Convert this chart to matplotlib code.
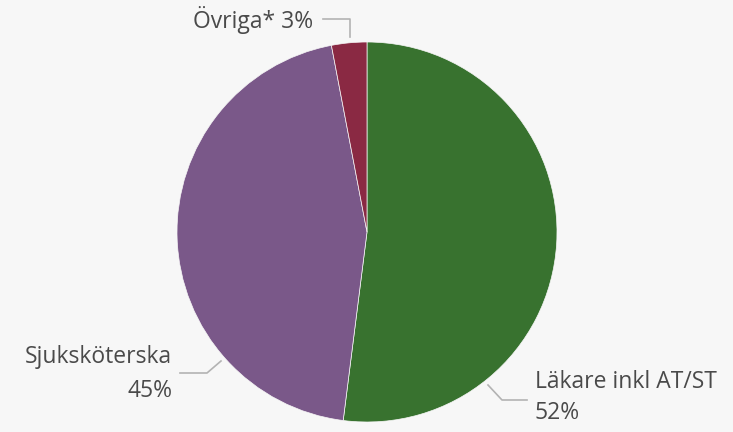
import matplotlib.pyplot as plt

labels = ["Läkare inkl AT/ST", "Sjuksköterska", "Övriga*"]
values = [52, 45, 3]
colors = ["#38722f", "#7a5889", "#8a2943"]

W, H = 733, 432
fig = plt.figure(figsize=(W / 100, H / 100), dpi=100)
fig.patch.set_facecolor("#f7f7f7")
ax = fig.add_axes([0, 0, 1, 1])

cx, cy, r = 367, H - 232, 190
ax.pie(values, colors=colors, startangle=90, counterclock=False,
       center=(cx, cy), radius=r, frame=True,
       wedgeprops=dict(linewidth=0.5, edgecolor="#f7f7f7"))
ax.set_xlim(0, W)
ax.set_ylim(0, H)
ax.set_aspect("equal")
ax.axis("off")

def py(y):
    return H - y

txt = dict(color="#4a4a4a", fontsize=16.5, family=["Open Sans", "DejaVu Sans"])
line = dict(color="#b3b3b3", linewidth=1.2)

# Övriga
ax.plot([323, 350, 350], [py(19), py(19), py(37)], **line)
ax.text(313, py(20), f"{labels[2]} {values[2]}%", ha="right", va="center", **txt)

# Sjuksköterska
ax.plot([180, 207, 221], [py(373), py(373), py(361)], **line)
ax.text(172, py(357), labels[1], ha="right", va="center", **txt)
ax.text(172, py(391), f"{values[1]}%", ha="right", va="center", **txt)

# Läkare
ax.plot([488, 502, 527], [py(385), py(400), py(400)], **line)
ax.text(535, py(382), labels[0], ha="left", va="center", **txt)
ax.text(535, py(413), f"{values[0]}%", ha="left", va="center", **txt)

fig.savefig("out.png", dpi=100, facecolor=fig.get_facecolor())
